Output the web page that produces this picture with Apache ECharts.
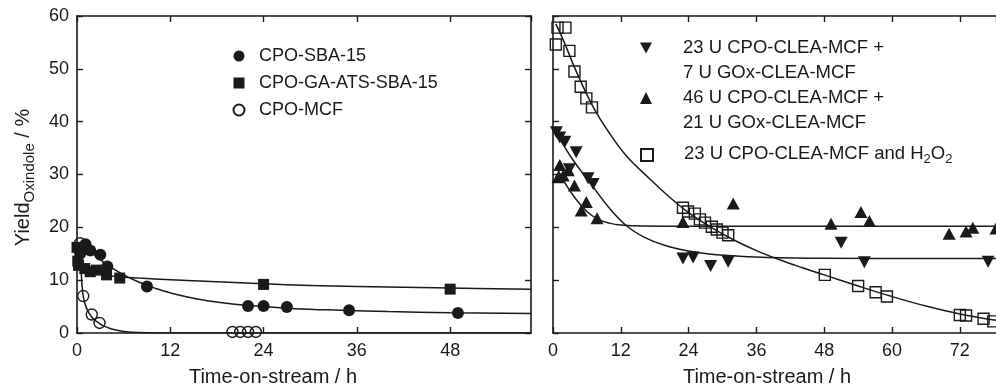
<!DOCTYPE html>
<html>
<head>
<meta charset="utf-8">
<script src="https://cdn.jsdelivr.net/npm/echarts@6/dist/echarts.min.js"></script>
<style>
  html, body { margin: 0; padding: 0; background: #fff; }
  #chart { width: 996px; height: 392px; }
</style>
</head>
<body>
<div id="chart"></div>
<script>
// ---- left panel (x = time-on-stream in h, y = yield %) ----
var cpoSba15 = [[0.4,15.0],[1.1,16.8],[1.7,15.6],[3.0,14.8],[3.9,12.6],[9.0,8.8],[22,5.1],[24,5.1],[27,4.9],[35,4.3],[49,3.8]];
var cpoGaSba15 = [[0,16.2],[0.1,13.6],[0.2,12.8],[1.0,12.2],[1.7,11.6],[2.5,11.9],[3.8,11.0],[5.5,10.4],[24,9.2],[48,8.3]];
var cpoMcf = [[0.4,17.0],[0.8,7.0],[1.9,3.5],[2.9,1.9],[20,0.2],[21,0.2],[22,0.2],[23,0.2]];

// fitted curves
var fitSba15 = [[0.5,16.4],[2,15.0],[4,12.8],[6,11.0],[8,9.6],[10,8.5],[12,7.6],[16,6.3],[20,5.5],[24,5.0],[28,4.6],[34,4.3],[40,4.05],[48,3.85],[58.4,3.7]];
var fitGaSba15 = [[0,14.0],[1,12.4],[2,11.6],[3,11.2],[5,10.7],[8,10.4],[12,10.1],[18,9.7],[24,9.3],[30,9.0],[36,8.8],[48,8.5],[58.4,8.3]];
var fitMcf = [[0.4,17],[0.6,10],[0.8,7],[1.2,4.8],[1.9,3.0],[3,1.7],[4,1.0],[5,0.55],[6,0.3],[8,0.1],[12,0],[58.4,0]];

// ---- right panel (cut off at the image edge, ~78 h) ----
var cleaLow = [[0.6,38.0],[1.2,37.0],[2.1,36.2],[4.1,34.2],[2.9,31.0],[6.2,29.3],[7.1,28.2],[23,14.1],[24.8,14.3],[27.9,12.7],[31,13.5],[51,17.1],[55.1,13.4],[77,13.5]];
var cleaHigh = [[0.9,29.5],[1.2,31.8],[1.8,29.8],[2.7,30.8],[3.8,27.9],[5.0,23.2],[5.9,24.8],[7.8,21.7],[23,21.0],[31.9,24.5],[49.2,20.7],[54.5,22.9],[56,21.2],[70.1,18.8],[73.1,19.2],[74.3,19.9],[78.4,19.8]];
var cleaH2o2 = [[0.8,57.8],[2.2,57.8],[0.5,54.6],[2.9,53.4],[3.8,49.5],[4.9,46.6],[5.9,44.4],[6.9,42.7],[23,23.7],[23.9,23.0],[25.1,22.6],[26,21.5],[26.9,20.9],[28.1,20.1],[29,19.6],[30,19.0],[31,18.5],[48.1,11.0],[54,8.9],[57.1,7.7],[59.1,6.9],[72,3.4],[73.1,3.3],[76.2,2.7],[77.9,2.2]];

var fitLow = [[0.5,38],[3,33.6],[5,30.6],[7,27.8],[10,23.6],[13,20.3],[16,18.2],[20,16.5],[24,15.5],[28,14.9],[32,14.6],[38,14.3],[48,14.15],[78.4,14.1]];
var fitHigh = [[0.6,31.5],[2,28.6],[4,25.4],[6,23.0],[8,21.5],[10,20.8],[12,20.45],[16,20.25],[24,20.2],[78.4,20.2]];
var fitH2o2 = [[0.5,58.5],[2,55],[4,49.8],[7,43],[10,37.8],[13,33.5],[17,29.3],[20,26.3],[24,22.8],[28,20],[32,17.6],[36,15.6],[40,13.9],[44,12.4],[48,11],[54,8.9],[60,6.9],[66,5.1],[72,3.6],[78.4,2.4]];

var leftNames = ['CPO-SBA-15', 'CPO-GA-ATS-SBA-15', 'CPO-MCF'];
var rightNames = ['23 U CPO-CLEA-MCF + 7 U GOx-CLEA-MCF', '46 U CPO-CLEA-MCF + 21 U GOx-CLEA-MCF', '23 U CPO-CLEA-MCF and H2O2'];

var FONT = '"Liberation Sans", Arial, sans-serif';
var INK = '#1a1a1a';
var downTri = 'path://M0,0L10,0L5,9Z';

var myChart = echarts.init(document.getElementById('chart'));

function xAx(grid, max, top) {
  return {
    type: 'value', gridIndex: grid, position: top ? 'top' : 'bottom',
    min: 0, max: max, interval: 12,
    axisLine: { onZero: false, lineStyle: { color: INK, width: 1.6 } },
    axisTick: { inside: true, length: 6, lineStyle: { color: INK, width: 1.4 } },
    axisLabel: { show: !top, showMaxLabel: false, color: INK, fontSize: 18, fontFamily: FONT, margin: 9 },
    splitLine: { show: false }
  };
}
function yAx(grid, right, labels) {
  return {
    type: 'value', gridIndex: grid, position: right ? 'right' : 'left',
    min: 0, max: 60, interval: 10,
    axisLine: { onZero: false, lineStyle: { color: INK, width: 1.6 } },
    axisTick: { inside: true, length: 6, lineStyle: { color: INK, width: 1.4 } },
    axisLabel: { show: labels, color: INK, fontSize: 18, fontFamily: FONT, margin: 8 },
    splitLine: { show: false }
  };
}
var xName = {
  name: 'Time-on-stream / h', nameLocation: 'middle', nameGap: 34,
  nameTextStyle: { color: INK, fontSize: 20, fontFamily: FONT }
};

var xAxes = [xAx(0, 58.4, false), xAx(0, 58.4, true), xAx(1, 78.4, false), xAx(1, 78.4, true)];
Object.assign(xAxes[0], xName);
xAxes[0].nameTextStyle = Object.assign({}, xName.nameTextStyle, { padding: [0, 62, 0, 0] });
Object.assign(xAxes[2], xName);
xAxes[2].nameTextStyle = Object.assign({}, xName.nameTextStyle, { padding: [0, 15, 0, 0] });

var yAxes = [yAx(0, false, true), yAx(0, true, false), yAx(1, false, false), yAx(1, true, false)];
yAxes[3].show = false;   // right frame of 2nd panel lies outside the picture
Object.assign(yAxes[0], {
  name: '{a|Yield}{b|Oxindole}{a| / %}', nameLocation: 'middle', nameRotate: 90, nameGap: 40,
  nameTextStyle: {
    padding: [0, 6, 0, 0],
    rich: {
      a: { fontSize: 20, lineHeight: 24, verticalAlign: 'top', color: INK, fontFamily: FONT },
      b: { fontSize: 15, lineHeight: 12, verticalAlign: 'bottom', color: INK, fontFamily: FONT }
    }
  }
});

function dots(name, data, xi, symbol, size, hollow) {
  return {
    name: name, type: 'scatter', xAxisIndex: xi, yAxisIndex: xi, data: data,
    symbol: symbol, symbolSize: size, z: 3, clip: false,
    itemStyle: hollow
      ? { color: 'rgba(0,0,0,0)', borderColor: INK, borderWidth: 1.4, opacity: 1 }
      : { color: INK, opacity: 1 }
  };
}
function fit(data, xi) {
  return {
    type: 'line', xAxisIndex: xi, yAxisIndex: xi, data: data,
    showSymbol: false, smooth: 0.4, silent: true, z: 2,
    lineStyle: { color: INK, width: 1.5 }
  };
}

var option = {
  animation: false,
  backgroundColor: '#fff',
  textStyle: { fontFamily: FONT },
  grid: [
    { left: 77, top: 16, width: 454, height: 319 },
    { left: 553, top: 16, width: 443, height: 319 }
  ],
  xAxis: xAxes,
  yAxis: yAxes,
  legend: [
    {
      data: leftNames, orient: 'vertical', left: 232.5, top: 45, padding: 0,
      itemWidth: 11, itemHeight: 11, itemGap: 5, selectedMode: false,
      textStyle: { color: INK, fontSize: 18, lineHeight: 22, padding: [0, 0, 0, 9.5], fontFamily: FONT }
    },
    {
      // blank first line keeps the marker level with the first text line
      data: rightNames.slice(0, 2), orient: 'vertical', left: 640, top: 10.5, padding: 0,
      itemWidth: 12, itemHeight: 12, itemGap: -25, selectedMode: false,
      formatter: function (n) { return '\n' + n.replace(' + ', ' +\n'); },
      textStyle: { color: INK, fontSize: 18.5, lineHeight: 25, padding: [0, 0, 0, 26], fontFamily: FONT }
    },
    {
      data: rightNames.slice(2), orient: 'vertical', left: 640, top: 144, padding: 0,
      itemWidth: 12, itemHeight: 12, selectedMode: false,
      formatter: function () { return '{n|23 U CPO-CLEA-MCF and H}{s|2}{n|O}{s|2}'; },
      textStyle: {
        color: INK, padding: [0, 0, 0, 26],
        rich: {
          n: { fontSize: 18.5, lineHeight: 22, verticalAlign: 'top', color: INK, fontFamily: FONT },
          s: { fontSize: 13, lineHeight: 12, verticalAlign: 'bottom', color: INK, fontFamily: FONT }
        }
      }
    }
  ],
  series: [
    fit(fitSba15, 0), fit(fitGaSba15, 0), fit(fitMcf, 0),
    dots(leftNames[0], cpoSba15, 0, 'circle', 12, false),
    dots(leftNames[1], cpoGaSba15, 0, 'rect', 11, false),
    dots(leftNames[2], cpoMcf, 0, 'circle', 11, true),
    fit(fitLow, 2), fit(fitHigh, 2), fit(fitH2o2, 2),
    dots(rightNames[0], cleaLow, 2, downTri, [13, 12], false),
    dots(rightNames[1], cleaHigh, 2, 'triangle', [13, 12], false),
    dots(rightNames[2], cleaH2o2, 2, 'rect', 11, true)
  ]
};
myChart.setOption(option);
</script>
</body>
</html>
